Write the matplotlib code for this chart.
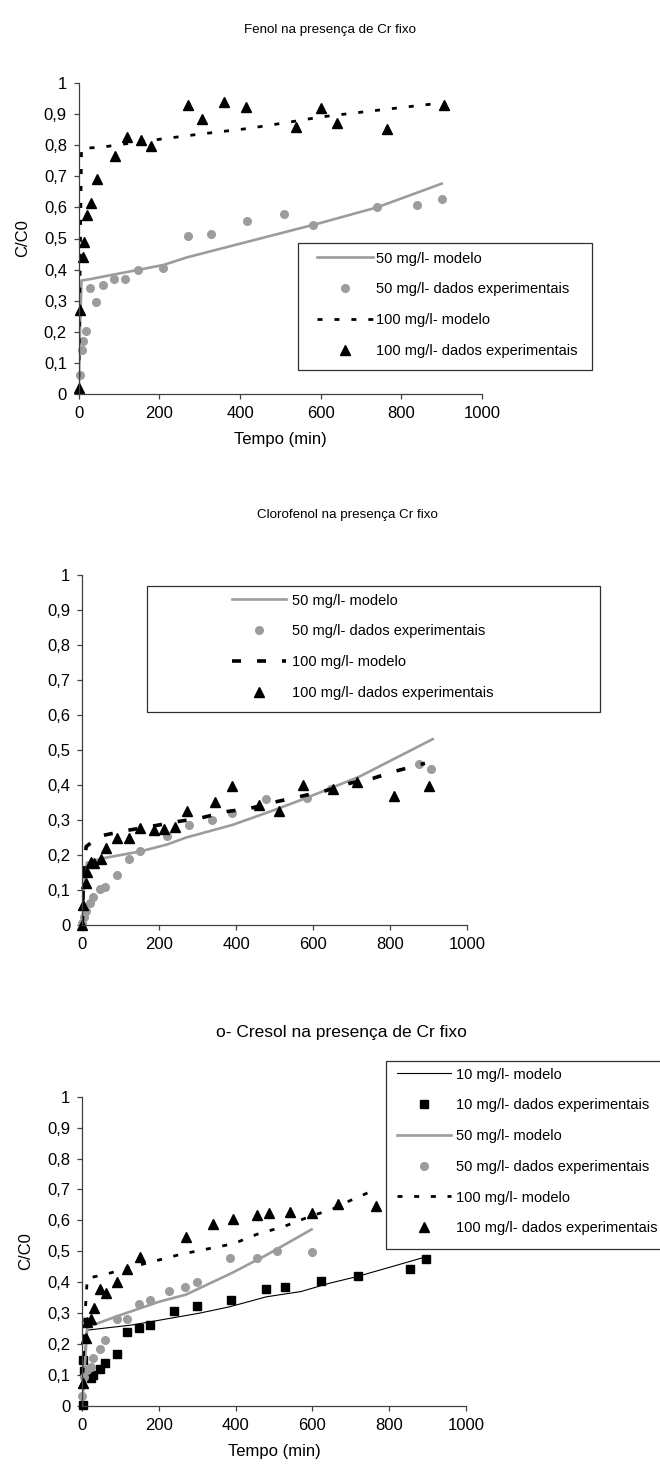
import matplotlib
matplotlib.use('Agg')
import matplotlib.pyplot as plt
from matplotlib.patches import Rectangle
from matplotlib.ticker import FixedLocator, FuncFormatter

plt.rcParams['font.family'] = ['Liberation Sans', 'DejaVu Sans']
plt.rcParams['lines.scale_dashes'] = False

# ---------------- data ----------------
# Chart 1: Fenol
fenol_t50_mod = [0, 3, 7, 30, 90, 150, 210, 270, 420, 510, 600, 740, 900]
fenol_c50_mod = [0, 0.2, 0.365, 0.37, 0.385, 0.40, 0.415, 0.44, 0.49, 0.52, 0.55, 0.60, 0.676]
fenol_t50_exp = [2, 7, 10, 18, 28, 42, 60, 87, 116, 148, 209, 270, 328, 417, 508, 580, 740, 838, 900]
fenol_c50_exp = [0.063, 0.142, 0.172, 0.204, 0.34, 0.296, 0.35, 0.37, 0.37, 0.40, 0.406, 0.507,
                 0.513, 0.556, 0.578, 0.543, 0.60, 0.609, 0.626]
fenol_t100_mod = [0, 7, 50, 180, 300, 420, 520, 600, 750, 900]
fenol_c100_mod = [0, 0.79, 0.792, 0.815, 0.835, 0.853, 0.873, 0.89, 0.913, 0.935]
fenol_t100_exp = [0, 2, 10, 12, 20, 30, 45, 90, 120, 155, 180, 270, 305, 360, 415, 540, 600, 640, 765, 905]
fenol_c100_exp = [0.02, 0.27, 0.44, 0.49, 0.575, 0.615, 0.69, 0.765, 0.826, 0.817, 0.798, 0.928,
                  0.883, 0.937, 0.922, 0.858, 0.919, 0.87, 0.853, 0.927]

# Chart 2: Clorofenol
cloro_t50_mod = [0, 5, 12, 50, 150, 220, 270, 390, 490, 575, 720, 910]
cloro_c50_mod = [0, 0.12, 0.178, 0.19, 0.21, 0.23, 0.25, 0.286, 0.325, 0.36, 0.424, 0.531]
cloro_t50_exp = [0, 4, 10, 20, 28, 46, 60, 89, 120, 150, 221, 277, 338, 388, 477, 584, 645, 875, 907]
cloro_c50_exp = [0.005, 0.022, 0.041, 0.064, 0.08, 0.102, 0.109, 0.143, 0.19, 0.212, 0.254, 0.286,
                 0.30, 0.321, 0.36, 0.364, 0.39, 0.459, 0.446]
cloro_t100_mod = [0, 3, 10, 45, 115, 175, 245, 305, 375, 435, 495, 565, 630, 695, 755, 815, 890]
cloro_c100_mod = [0, 0.15, 0.224, 0.254, 0.27, 0.281, 0.295, 0.305, 0.324, 0.333, 0.35, 0.367,
                  0.383, 0.405, 0.419, 0.44, 0.462]
cloro_t100_exp = [0, 3, 10, 13, 22, 30, 48, 62, 89, 120, 150, 186, 212, 240, 271, 345, 390, 460,
                  510, 572, 650, 714, 810, 900]
cloro_c100_exp = [0, 0.057, 0.12, 0.152, 0.18, 0.176, 0.19, 0.22, 0.25, 0.248, 0.276, 0.271, 0.273,
                  0.279, 0.327, 0.352, 0.397, 0.343, 0.326, 0.40, 0.388, 0.409, 0.369, 0.397]

# Chart 3: o-Cresol
cresol_t10_mod = [0, 5, 11, 130, 305, 385, 480, 570, 645, 715, 800, 898]
cresol_c10_mod = [0, 0.15, 0.245, 0.262, 0.30, 0.321, 0.353, 0.37, 0.397, 0.418, 0.448, 0.483]
cresol_t10_exp = [1, 3, 5, 22, 27, 46, 59, 90, 117, 149, 177, 239, 298, 387, 479, 529, 622, 718, 855, 896]
cresol_c10_exp = [0.149, 0.003, 0.114, 0.092, 0.10, 0.119, 0.138, 0.168, 0.24, 0.253, 0.262, 0.307,
                  0.323, 0.343, 0.377, 0.386, 0.404, 0.421, 0.443, 0.474]
cresol_t50_mod = [0, 5, 13, 90, 200, 270, 390, 480, 598]
cresol_c50_mod = [0, 0.1, 0.255, 0.29, 0.337, 0.36, 0.43, 0.488, 0.571]
cresol_t50_exp = [0, 4, 13, 22, 27, 46, 59, 90, 117, 149, 177, 227, 268, 298, 386, 455, 508, 598]
cresol_c50_exp = [0.032, 0.095, 0.116, 0.127, 0.155, 0.183, 0.213, 0.28, 0.28, 0.329, 0.343, 0.373,
                  0.386, 0.402, 0.48, 0.48, 0.501, 0.497]
cresol_t100_mod = [0, 5, 13, 55, 150, 255, 395, 455, 525, 598, 650, 700, 755]
cresol_c100_mod = [0, 0.25, 0.413, 0.424, 0.456, 0.49, 0.525, 0.555, 0.58, 0.615, 0.635, 0.665, 0.695]
cresol_t100_exp = [1, 10, 13, 22, 30, 46, 62, 90, 117, 151, 270, 342, 392, 455, 488, 542, 598, 667, 765]
cresol_c100_exp = [0.073, 0.219, 0.27, 0.28, 0.316, 0.377, 0.364, 0.40, 0.442, 0.481, 0.547, 0.59,
                   0.605, 0.618, 0.623, 0.628, 0.623, 0.653, 0.648]

titles = ["Fenol na presença de Cr fixo", "Clorofenol na presença Cr fixo",
          "o- Cresol na presença de Cr fixo"]
xlabel = "Tempo (min)"
ylabel = "C/C0"
y_ticks = [i / 10 for i in range(11)]
x_ticks = [0, 200, 400, 600, 800, 1000]

# ---------------- figure ----------------
W, H = 660, 1477
fig = plt.figure(figsize=(W / 100, H / 100), dpi=100)

GRAY = '#9c9c9c'
AXC = '#404040'


def px_axes(l, r, t, b):
    return fig.add_axes([l / W, 1 - b / H, (r - l) / W, (b - t) / H])


def style(ax):
    ax.set_xlim(0, 1000)
    ax.set_ylim(0, 1)
    for s in ('top', 'right'):
        ax.spines[s].set_visible(False)
    for s in ('left', 'bottom'):
        ax.spines[s].set_color(AXC)
        ax.spines[s].set_linewidth(0.9)
    ax.yaxis.set_major_locator(FixedLocator(y_ticks))
    ax.xaxis.set_major_locator(FixedLocator(x_ticks))
    ax.yaxis.set_major_formatter(FuncFormatter(
        lambda v, p: ('%g' % round(v, 1)).replace('.', ',')))
    ax.xaxis.set_major_formatter(FuncFormatter(lambda v, p: '%d' % v))
    ax.tick_params(direction='out', length=3.5, width=0.9, color=AXC,
                   labelsize=12, pad=5)


def px_text(x, y, s, size, **kw):
    fig.text(x / W, 1 - y / H, s, fontsize=size, ha='center', va='center', **kw)


def legend_box(l, t, r, b):
    fig.patches.append(Rectangle((l / W, 1 - b / H), (r - l) / W, (b - t) / H,
                                 transform=fig.transFigure, fill=False,
                                 edgecolor='#303030', linewidth=0.9, clip_on=False))


def place_legend(ax, x, y, hlen, hpad):
    leg = ax.legend(loc='upper left', bbox_to_anchor=(x / W, 1 - y / H),
                    bbox_transform=fig.transFigure, frameon=False, fontsize=10.5,
                    borderpad=0, borderaxespad=0, handlelength=hlen,
                    handletextpad=hpad, labelspacing=1.15, numpoints=1)
    return leg


# ---- Chart 1 ----
ax1 = px_axes(78.7, 482, 82.7, 394.3)
style(ax1)
ax1.plot(fenol_t50_mod, fenol_c50_mod, color=GRAY, lw=1.9, label='50 mg/l- modelo')
ax1.plot(fenol_t50_exp, fenol_c50_exp, ls='none', marker='o', ms=5.5, color=GRAY,
         mec=GRAY, clip_on=False, label='50 mg/l- dados experimentais')
ax1.plot(fenol_t100_mod, fenol_c100_mod, color='black', lw=2.0, ls=(0, (3.6, 8.6)),
         label='100 mg/l- modelo')
ax1.plot(fenol_t100_exp, fenol_c100_exp, ls='none', marker='^', ms=6.5, color='black',
         clip_on=False, label='100 mg/l- dados experimentais')
ax1.set_xlabel(xlabel, fontsize=12, labelpad=8)
ax1.set_ylabel(ylabel, fontsize=12, labelpad=10)
place_legend(ax1, 316.7, 251.5, 3.85, 0.25)
legend_box(298, 243.3, 592.3, 370)
px_text(330, 30, titles[0], 9.6)

# ---- Chart 2 ----
ax2 = px_axes(82.3, 467.3, 575, 925)
style(ax2)
ax2.plot(cloro_t50_mod, cloro_c50_mod, color=GRAY, lw=1.9, label='50 mg/l- modelo')
ax2.plot(cloro_t50_exp, cloro_c50_exp, ls='none', marker='o', ms=5.5, color=GRAY,
         mec=GRAY, clip_on=False, label='50 mg/l- dados experimentais')
ax2.plot(cloro_t100_mod, cloro_c100_mod, color='black', lw=2.6, ls=(0, (6.5, 11.5)),
         label='100 mg/l- modelo')
ax2.plot(cloro_t100_exp, cloro_c100_exp, ls='none', marker='^', ms=6.5, color='black',
         clip_on=False, label='100 mg/l- dados experimentais')
place_legend(ax2, 231.7, 593.5, 3.7, 0.45)
legend_box(147, 585.7, 600, 711.7)
px_text(347, 515, titles[1], 9.6)

# ---- Chart 3 ----
ax3 = px_axes(82.3, 465.8, 1096.7, 1406)
style(ax3)
ax3.plot(cresol_t10_mod, cresol_c10_mod, color='black', lw=0.8, label='10 mg/l- modelo')
ax3.plot(cresol_t10_exp, cresol_c10_exp, ls='none', marker='s', ms=5.5, color='black',
         clip_on=False, label='10 mg/l- dados experimentais')
ax3.plot(cresol_t50_mod, cresol_c50_mod, color=GRAY, lw=1.9, label='50 mg/l- modelo')
ax3.plot(cresol_t50_exp, cresol_c50_exp, ls='none', marker='o', ms=5.5, color=GRAY,
         mec=GRAY, clip_on=False, label='50 mg/l- dados experimentais')
ax3.plot(cresol_t100_mod, cresol_c100_mod, color='black', lw=2.0, ls=(0, (3.6, 8.4)),
         label='100 mg/l- modelo')
ax3.plot(cresol_t100_exp, cresol_c100_exp, ls='none', marker='^', ms=6.5, color='black',
         clip_on=False, label='100 mg/l- dados experimentais')
ax3.set_xlabel(xlabel, fontsize=12, labelpad=8)
ax3.set_ylabel(ylabel, fontsize=12, labelpad=10)
place_legend(ax3, 396.7, 1067.5, 3.75, 0.35)
legend_box(386, 1060.7, 680, 1249)
px_text(341, 1032, titles[2], 12.5)

fig.savefig('out.png', dpi=100)
